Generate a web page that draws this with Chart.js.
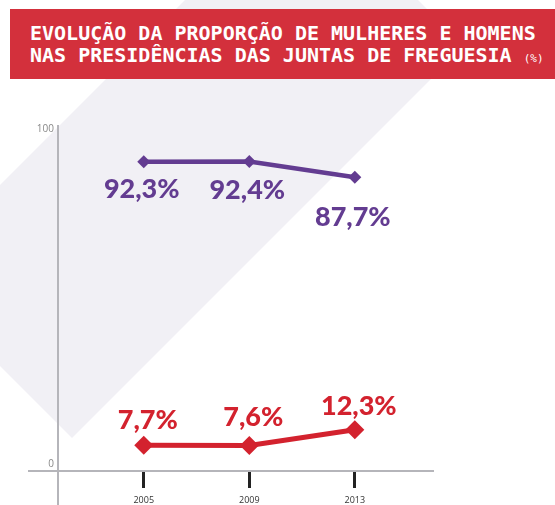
<!DOCTYPE html>
<html>
<head>
<meta charset="utf-8">
<script src="https://cdn.jsdelivr.net/npm/chart.js@4/dist/chart.umd.min.js"></script>
<style>
  body { margin: 0; background: #fff; }
  #caixa { position: relative; width: 555px; height: 505px; overflow: hidden; }
  #grafico { position: absolute; left: 0; top: 0; }
  #titulo {
    position: absolute; left: 10px; top: 9px; width: 545px; height: 70px;
    box-sizing: border-box; padding: 14px 0 0 20px;
    background: #d3303c; color: #fff; white-space: nowrap;
    font: bold 20px "DejaVu Sans Mono", monospace; line-height: 21.5px;
  }
  #titulo small { font-size: 11px; font-weight: normal; }
</style>
</head>
<body>
<div id="caixa">
  <canvas id="grafico" width="555" height="505"></canvas>
  <div id="titulo">EVOLUÇÃO DA PROPORÇÃO DE MULHERES E HOMENS<br>NAS PRESIDÊNCIAS DAS JUNTAS DE FREGUESIA <small>(%)</small></div>
</div>
<script>
const anos = [2005, 2009, 2013];
const homens = [92.3, 92.4, 87.7];
const mulheres = [7.7, 7.6, 12.3];
const ticksY = [0, 100];

const roxo = '#633c91';
const vermelho = '#d3222e';

function formatar(v) {
  return v.toFixed(1).replace('.', ',') + '%';
}

// faixa cinzenta diagonal do fundo
const fundo = {
  id: 'fundo',
  beforeDraw(chart) {
    const ctx = chart.ctx;
    ctx.save();
    ctx.fillStyle = '#f1f0f5';
    ctx.beginPath();
    ctx.moveTo(0, 185);
    ctx.lineTo(185, 0);
    ctx.lineTo(418, 0);
    ctx.lineTo(464, 46);
    ctx.lineTo(72, 438);
    ctx.lineTo(0, 366);
    ctx.closePath();
    ctx.fill();
    ctx.restore();
  }
};

// eixos em cruz, prolongados para fora da area
const eixos = {
  id: 'eixos',
  beforeDatasetsDraw(chart) {
    const ctx = chart.ctx;
    const area = chart.chartArea;
    const y0 = chart.scales.y.getPixelForValue(0);
    ctx.save();
    ctx.strokeStyle = '#b5b5ba';
    ctx.lineWidth = 2;
    ctx.beginPath();
    ctx.moveTo(area.left, area.top);
    ctx.lineTo(area.left, chart.height);
    ctx.moveTo(28, y0);
    ctx.lineTo(area.right, y0);
    ctx.stroke();
    ctx.restore();
  }
};

// valores escritos junto aos pontos
const rotulos = {
  id: 'rotulos',
  afterDatasetsDraw(chart) {
    const ctx = chart.ctx;
    ctx.save();
    ctx.font = '900 27px Lato';
    ctx.textAlign = 'center';
    ctx.textBaseline = 'alphabetic';
    chart.data.datasets.forEach((ds, i) => {
      const meta = chart.getDatasetMeta(i);
      ctx.fillStyle = ds.borderColor;
      meta.data.forEach((pt, j) => {
        ctx.fillText(formatar(ds.data[j].y), pt.x + ds.rotuloDx, pt.y + ds.rotuloDy[j]);
      });
    });
    ctx.restore();
  }
};

new Chart(document.getElementById('grafico'), {
  type: 'line',
  data: {
    datasets: [
      {
        label: 'Homens',
        data: anos.map((a, i) => ({ x: a, y: homens[i] })),
        borderColor: roxo,
        backgroundColor: roxo,
        borderWidth: 4.5,
        pointStyle: 'rectRot',
        pointRadius: 6.5,
        pointBorderWidth: 0,
        rotuloDx: -2,
        rotuloDy: [36, 37, 49]
      },
      {
        label: 'Mulheres',
        data: anos.map((a, i) => ({ x: a, y: mulheres[i] })),
        borderColor: vermelho,
        backgroundColor: vermelho,
        borderWidth: 5,
        pointStyle: 'rectRot',
        pointRadius: 9.5,
        pointBorderWidth: 0,
        rotuloDx: 4,
        rotuloDy: [-16, -20, -15]
      }
    ]
  },
  options: {
    animation: false,
    responsive: false,
    layout: { padding: { top: 125, right: 121, left: 0, bottom: 0 } },
    plugins: {
      legend: { display: false },
      tooltip: { enabled: false }
    },
    scales: {
      x: {
        type: 'linear',
        min: 2001.75,
        max: 2016,
        afterBuildTicks: (s) => { s.ticks = anos.map(v => ({ value: v })); },
        afterFit: (s) => { s.height = 34; },
        border: { display: false },
        grid: {
          drawOnChartArea: false,
          drawTicks: true,
          tickLength: 17,
          tickWidth: 3,
          tickColor: '#222'
        },
        ticks: {
          callback: (v) => String(v),
          color: '#333',
          font: { family: 'Open Sans', size: 9 },
          padding: 7,
          maxRotation: 0
        }
      },
      y: {
        min: 0,
        max: 103.3,
        afterBuildTicks: (s) => { s.ticks = ticksY.map(v => ({ value: v })); },
        afterFit: (s) => { s.width = 58; },
        border: { display: false },
        grid: { display: false, drawTicks: false },
        ticks: {
          color: '#888',
          font: { family: 'Open Sans', size: 10 },
          padding: 4,
          labelOffset: -7
        }
      }
    }
  },
  plugins: [fundo, eixos, rotulos]
});
</script>
</body>
</html>
